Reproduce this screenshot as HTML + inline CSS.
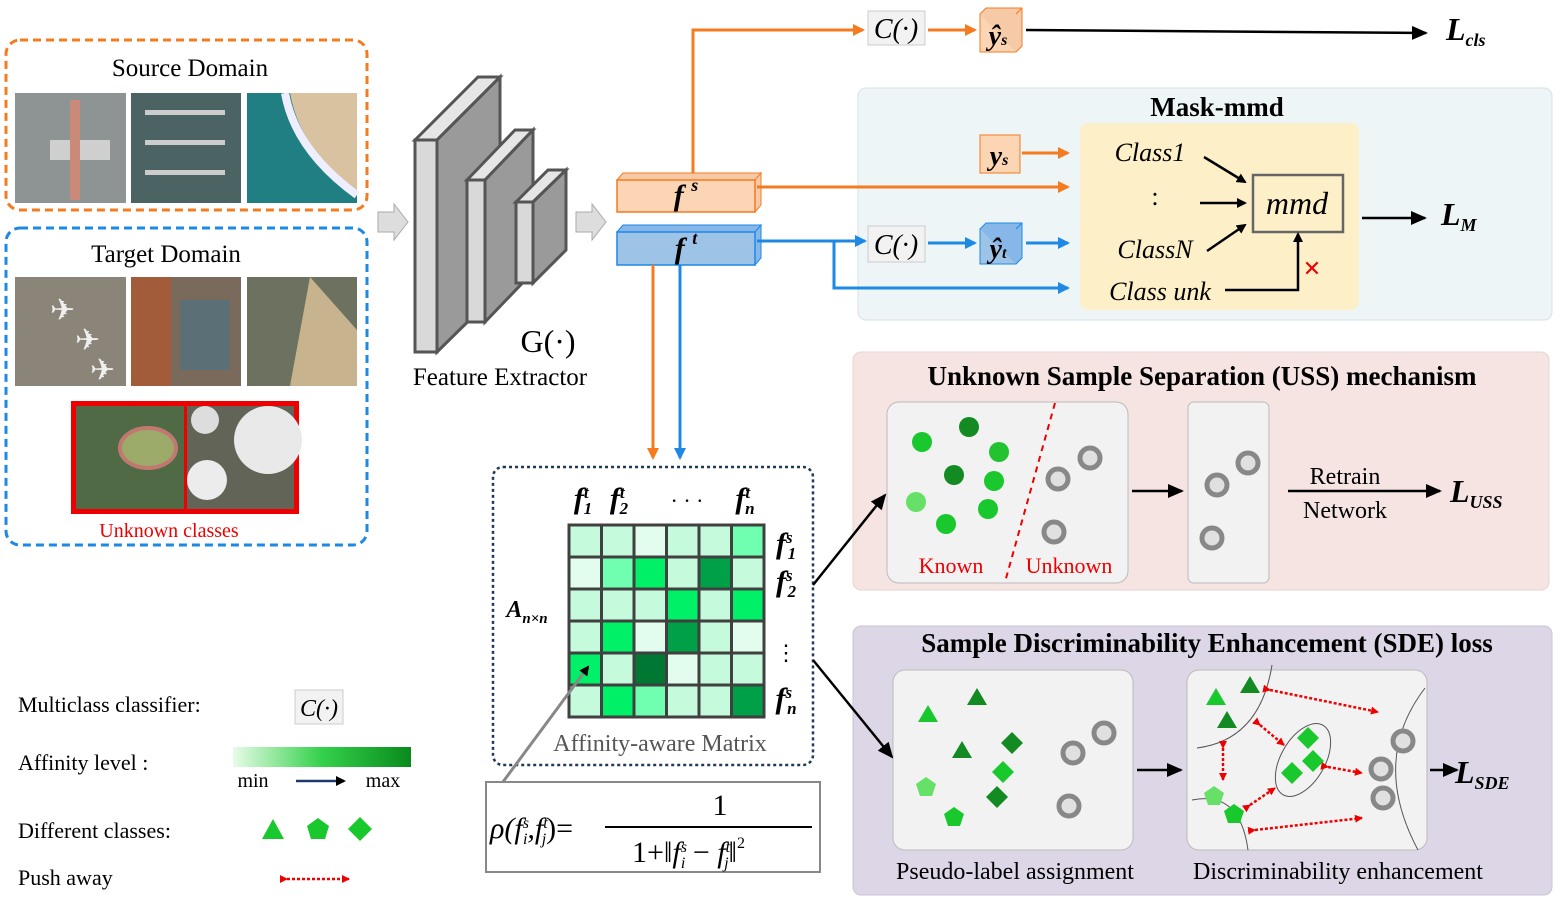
<!DOCTYPE html>
<html><head><meta charset="utf-8">
<style>
body{margin:0;background:#fff;}
svg{display:block;font-family:"Liberation Serif",serif;}
.it{font-style:italic;}
</style></head>
<body>
<svg id="fig" width="1561" height="906" viewBox="0 0 1561 906" xmlns="http://www.w3.org/2000/svg">
<defs>
<marker id="ab" markerWidth="10" markerHeight="10" refX="8" refY="5" orient="auto" markerUnits="userSpaceOnUse"><path d="M0,0 L10,5 L0,10 z" fill="#000"/></marker>
<marker id="ao" markerWidth="12" markerHeight="12" refX="10" refY="6" orient="auto" markerUnits="userSpaceOnUse"><path d="M0,0 L12,6 L0,12 z" fill="#f47b20"/></marker>
<marker id="abl" markerWidth="12" markerHeight="12" refX="10" refY="6" orient="auto" markerUnits="userSpaceOnUse"><path d="M0,0 L12,6 L0,12 z" fill="#1e88e5"/></marker>
<marker id="ak" markerWidth="16" markerHeight="14" refX="14" refY="7" orient="auto" markerUnits="userSpaceOnUse"><path d="M0,0 L16,7 L0,14 z" fill="#000"/></marker>
<marker id="ar" markerWidth="8" markerHeight="8" refX="7" refY="4" orient="auto" markerUnits="userSpaceOnUse"><path d="M0,0 L8,4 L0,8 z" fill="#e00"/></marker>
<linearGradient id="aff" x1="0" x2="1"><stop offset="0" stop-color="#e8fbe8"/><stop offset="0.5" stop-color="#33d14a"/><stop offset="1" stop-color="#0a8a1e"/></linearGradient>
</defs>

<g>
<rect x="6" y="40" width="361" height="170" rx="14" fill="none" stroke="#f47b20" stroke-width="3" stroke-dasharray="8,5"/>
<text x="190" y="76" font-size="25" text-anchor="middle">Source Domain</text>
<rect x="15" y="93" width="111" height="110" fill="#8e9394"/><rect x="50" y="140" width="60" height="20" fill="#cfcfcf"/><rect x="70" y="100" width="10" height="100" fill="#c98a7a"/>
<rect x="131" y="93" width="110" height="110" fill="#4b6463"/><rect x="145" y="110" width="80" height="5" fill="#ccc"/><rect x="145" y="140" width="80" height="5" fill="#ccc"/><rect x="145" y="170" width="80" height="5" fill="#ccc"/>
<rect x="247" y="93" width="110" height="110" fill="#1f7f82"/><path d="M290,93 Q300,150 357,190 L357,93 z" fill="#d9c2a0"/><path d="M285,93 Q295,150 357,195" fill="none" stroke="#eef" stroke-width="8"/>
</g>
<g>
<rect x="6" y="228" width="361" height="317" rx="14" fill="none" stroke="#1e88e5" stroke-width="3" stroke-dasharray="8,5"/>
<text x="166" y="262" font-size="25" text-anchor="middle">Target Domain</text>
<rect x="15" y="277" width="111" height="109" fill="#8b8579"/><text x="50" y="320" font-size="30" fill="#eee">✈</text><text x="75" y="350" font-size="30" fill="#eee">✈</text><text x="90" y="380" font-size="30" fill="#eee">✈</text>
<rect x="131" y="277" width="110" height="109" fill="#7a6a5c"/><rect x="131" y="277" width="40" height="109" fill="#a35c3a"/><rect x="180" y="300" width="50" height="70" fill="#5b6f77"/>
<rect x="247" y="277" width="110" height="109" fill="#6d7260"/><path d="M310,277 L357,330 L357,386 L290,386 z" fill="#c7b38d"/>
<rect x="71" y="401" width="228" height="113" fill="#e00"/>
<rect x="76" y="406" width="108" height="103" fill="#4f6a45"/><ellipse cx="148" cy="448" rx="28" ry="20" fill="#9cab6a" stroke="#c07870" stroke-width="4"/>
<rect x="187" y="406" width="107" height="103" fill="#626457"/><circle cx="268" cy="440" r="34" fill="#e9e9e9"/><circle cx="207" cy="480" r="20" fill="#ececec"/><circle cx="205" cy="420" r="14" fill="#ddd"/>
<text x="169" y="537" font-size="20" fill="#e00" text-anchor="middle">Unknown classes</text>
</g>

<path d="M378,212 h16 v-8 l14,18 l-14,18 v-8 h-16 z" fill="#ddd" stroke="#aaa"/>
<path d="M576,212 h16 v-8 l14,18 l-14,18 v-8 h-16 z" fill="#ddd" stroke="#aaa"/>

<g stroke="#555" stroke-width="3">
<path d="M415,140 L478,77 L500,77 L437,140 z" fill="#e6e6e6"/><path d="M437,140 L500,77 L500,290 L437,352 z" fill="#9a9a9a"/><rect x="415" y="140" width="22" height="212" fill="#d9d9d9"/>
<path d="M467,180 L515,130 L533,130 L485,180 z" fill="#e6e6e6"/><path d="M485,180 L533,130 L533,272 L485,322 z" fill="#9a9a9a"/><rect x="467" y="180" width="18" height="142" fill="#d9d9d9"/>
<path d="M516,202 L548,170 L566,170 L533,202 z" fill="#e6e6e6"/><path d="M533,202 L566,170 L566,250 L533,283 z" fill="#9a9a9a"/><rect x="516" y="202" width="17" height="81" fill="#d9d9d9"/>
</g>
<text x="548" y="352" font-size="32" text-anchor="middle">G(·)</text>
<text x="500" y="385" font-size="25" text-anchor="middle">Feature Extractor</text>

<g><path d="M617,180 l6,-7 h138 l-6,7 z M755,180 l6,-7 v32 l-6,7 z" fill="#f6c9a7" stroke="#f47b20"/><rect x="617" y="180" width="138" height="32" fill="#fcd5b5" stroke="#f47b20" stroke-width="1.5"/><text x="686" y="205" font-size="30" class="it" font-weight="bold" text-anchor="middle">f <tspan font-size="18" dy="-14">s</tspan></text></g>
<g><path d="M617,232 l6,-7 h138 l-6,7 z M755,232 l6,-7 v33 l-6,7 z" fill="#86b7e8" stroke="#1e88e5"/><rect x="617" y="232" width="138" height="33" fill="#9dc3e6" stroke="#1e88e5" stroke-width="1.5"/><text x="686" y="258" font-size="30" class="it" font-weight="bold" text-anchor="middle">f <tspan font-size="18" dy="-14">t</tspan></text></g>

<path d="M693,173 V30 H863" fill="none" stroke="#f47b20" stroke-width="3" marker-end="url(#ao)"/>
<rect x="868" y="11" width="57" height="34" fill="#f2f2f2" stroke="#ccc"/><text x="896" y="38" font-size="28" class="it" text-anchor="middle">C(·)</text>
<path d="M928,30 H975" stroke="#f47b20" stroke-width="3" marker-end="url(#ao)"/>
<rect x="980" y="14" width="36" height="38" fill="#fcd5b5" stroke="#f47b20"/><path d="M980,14 l6,-6 h36 v38 l-6,6 M1016,14 l6,-6" fill="#f6c9a7" stroke="#f47b20"/>
<text x="998" y="45" font-size="28" class="it" font-weight="bold" text-anchor="middle">ŷ<tspan font-size="16">s</tspan></text>
<path d="M1026,30 L1426,33" stroke="#000" stroke-width="2.5" marker-end="url(#ak)"/>
<text x="1446" y="40" font-size="32" class="it" font-weight="bold">L<tspan font-size="18" dy="6">cls</tspan></text>

<g>
<rect x="858" y="88" width="694" height="232" rx="8" fill="#eef5f7" stroke="#d6e3e8"/>
<text x="1217" y="116" font-size="27" font-weight="bold" text-anchor="middle">Mask-mmd</text>
<rect x="1080" y="123" width="279" height="187" rx="8" fill="#fdf0c8"/>
</g>
<rect x="980" y="135" width="40" height="38" fill="#fcd5b5" stroke="#f47b20"/><text x="999" y="165" font-size="28" class="it" font-weight="bold" text-anchor="middle">y<tspan font-size="16">s</tspan></text>
<path d="M1022,153 H1068" stroke="#f47b20" stroke-width="3" marker-end="url(#ao)"/>
<path d="M757,187 H1068" stroke="#f47b20" stroke-width="3" marker-end="url(#ao)"/>
<path d="M757,241 H865" stroke="#1e88e5" stroke-width="3" marker-end="url(#abl)"/>
<path d="M834,241 V288 H1068" fill="none" stroke="#1e88e5" stroke-width="3" marker-end="url(#abl)"/>
<rect x="868" y="226" width="57" height="36" fill="#f2f2f2" stroke="#ccc"/><text x="896" y="254" font-size="28" class="it" text-anchor="middle">C(·)</text>
<path d="M928,243 H975" stroke="#1e88e5" stroke-width="3" marker-end="url(#abl)"/>
<rect x="980" y="229" width="36" height="35" fill="#9dc3e6" stroke="#1e88e5"/><path d="M980,229 l6,-6 h36 v35 l-6,6 M1016,229 l6,-6" fill="#86b7e8" stroke="#1e88e5"/>
<text x="998" y="258" font-size="28" class="it" font-weight="bold" text-anchor="middle">ŷ<tspan font-size="16">t</tspan></text>
<path d="M1026,243 H1068" stroke="#1e88e5" stroke-width="3" marker-end="url(#abl)"/>
<text x="1150" y="161" font-size="26" class="it" text-anchor="middle">Class1</text>
<text x="1155" y="205" font-size="26" text-anchor="middle">:</text>
<text x="1155" y="258" font-size="26" class="it" text-anchor="middle">ClassN</text>
<text x="1160" y="300" font-size="26" class="it" text-anchor="middle">Class unk</text>
<path d="M1204,157 L1245,182" stroke="#000" stroke-width="2.5" marker-end="url(#ab)"/>
<path d="M1200,203 H1245" stroke="#000" stroke-width="2.5" marker-end="url(#ab)"/>
<path d="M1207,251 L1245,225" stroke="#000" stroke-width="2.5" marker-end="url(#ab)"/>
<rect x="1253" y="175" width="90" height="57" fill="none" stroke="#666" stroke-width="2.5"/>
<text x="1297" y="214" font-size="32" class="it" text-anchor="middle">mmd</text>
<path d="M1225,290 H1298 V234" fill="none" stroke="#000" stroke-width="2.5" marker-end="url(#ab)"/>
<text x="1312" y="276" font-size="22" fill="#e00" text-anchor="middle">✕</text>
<path d="M1362,218 H1425" stroke="#000" stroke-width="2.5" marker-end="url(#ak)"/>
<text x="1441" y="225" font-size="32" class="it" font-weight="bold">L<tspan font-size="18" dy="6">M</tspan></text>

<g>
<rect x="853" y="352" width="696" height="238" rx="8" fill="#f5e4e2" stroke="#ead3d0"/>
<text x="1202" y="385" font-size="27" font-weight="bold" text-anchor="middle">Unknown Sample Separation (USS) mechanism</text>
<rect x="887" y="402" width="241" height="181" rx="12" fill="#f2f2f2" stroke="#bbb"/>
<rect x="1188" y="402" width="81" height="181" rx="6" fill="#f2f2f2" stroke="#bbb"/>
</g>
<g>
<circle cx="922" cy="442" r="10" fill="#19c82d"/><circle cx="969" cy="427" r="10" fill="#138a22"/><circle cx="999" cy="452" r="10" fill="#22c230"/><circle cx="954" cy="475" r="10" fill="#138a22"/><circle cx="994" cy="481" r="10" fill="#19c82d"/><circle cx="916" cy="502" r="10" fill="#66e066"/><circle cx="988" cy="509" r="10" fill="#19c82d"/><circle cx="946" cy="524" r="10" fill="#19c82d"/>
</g>
<g fill="#e0e0e0" stroke="#888" stroke-width="5">
<circle cx="1090" cy="458" r="10"/><circle cx="1058" cy="479" r="10"/><circle cx="1054" cy="532" r="10"/>
<circle cx="1248" cy="463" r="10"/><circle cx="1217" cy="485" r="10"/><circle cx="1212" cy="538" r="10"/>
</g>
<path d="M1055,403 L1005,582" stroke="#e00" stroke-width="2" stroke-dasharray="6,5"/>
<text x="951" y="573" font-size="22" fill="#e00" text-anchor="middle">Known</text>
<text x="1069" y="573" font-size="22" fill="#e00" text-anchor="middle">Unknown</text>
<path d="M1132,491 H1182" stroke="#000" stroke-width="2.5" marker-end="url(#ak)"/>
<text x="1345" y="484" font-size="24" text-anchor="middle">Retrain</text>
<text x="1345" y="518" font-size="24" text-anchor="middle">Network</text>
<path d="M1288,491 H1440" stroke="#000" stroke-width="2.5" marker-end="url(#ak)"/>
<text x="1450" y="502" font-size="32" class="it" font-weight="bold">L<tspan font-size="18" dy="6">USS</tspan></text>

<g>
<rect x="853" y="626" width="699" height="269" rx="8" fill="#dcd6e6" stroke="#cbc3d8"/>
<text x="1207" y="652" font-size="27" font-weight="bold" text-anchor="middle">Sample Discriminability Enhancement (SDE) loss</text>
<rect x="893" y="670" width="240" height="180" rx="12" fill="#f2f2f2" stroke="#bbb"/>
<rect x="1187" y="670" width="240" height="180" rx="12" fill="#f2f2f2" stroke="#bbb"/>
</g>
<g>
<path d="M977,688 l10,17 h-20 z" fill="#138a22"/><path d="M928,705 l10,17 h-20 z" fill="#19c82d"/><path d="M962,741 l10,17 h-20 z" fill="#138a22"/>
<path d="M1012,732 l11,11 l-11,11 l-11,-11 z" fill="#138a22"/><path d="M1003,761 l11,11 l-11,11 l-11,-11 z" fill="#19c82d"/><path d="M997,786 l11,11 l-11,11 l-11,-11 z" fill="#138a22"/>
<path d="M926,777 l10,7 l-4,12 h-12 l-4,-12 z" fill="#66e066"/><path d="M954,807 l10,7 l-4,12 h-12 l-4,-12 z" fill="#19c82d"/>
<g fill="#e0e0e0" stroke="#888" stroke-width="5"><circle cx="1104" cy="733" r="10"/><circle cx="1073" cy="753" r="10"/><circle cx="1069" cy="806" r="10"/></g>
</g>
<g fill="none" stroke="#555" stroke-width="1">
<path d="M1197,748 Q1260,740 1272,665"/><path d="M1192,800 Q1240,790 1248,850"/><path d="M1425,688 Q1370,760 1418,850"/>
<ellipse cx="1303" cy="760" rx="22" ry="40" transform="rotate(30 1303 760)"/>
</g>
<g>
<path d="M1216,688 l10,17 h-20 z" fill="#19c82d"/><path d="M1250,676 l10,17 h-20 z" fill="#138a22"/><path d="M1227,711 l10,17 h-20 z" fill="#138a22"/>
<path d="M1308,727 l11,11 l-11,11 l-11,-11 z" fill="#19c82d"/><path d="M1292,762 l11,11 l-11,11 l-11,-11 z" fill="#19c82d"/><path d="M1313,750 l11,11 l-11,11 l-11,-11 z" fill="#19c82d"/>
<path d="M1214,786 l10,7 l-4,12 h-12 l-4,-12 z" fill="#66e066"/><path d="M1234,804 l10,7 l-4,12 h-12 l-4,-12 z" fill="#19c82d"/>
<g fill="#e0e0e0" stroke="#888" stroke-width="5"><circle cx="1403" cy="741" r="10"/><circle cx="1381" cy="769" r="10"/><circle cx="1383" cy="798" r="10"/></g>
<g stroke="#e00" stroke-width="2.5" stroke-dasharray="3,2" marker-start="url(#ar)" marker-end="url(#ar)">
<line x1="1270" y1="690" x2="1378" y2="712"/><line x1="1260" y1="725" x2="1284" y2="745"/><line x1="1223" y1="748" x2="1223" y2="780"/>
<line x1="1250" y1="805" x2="1275" y2="788"/><line x1="1255" y1="830" x2="1362" y2="818"/><line x1="1328" y1="767" x2="1362" y2="773"/>
</g>
</g>
<path d="M1137,770 H1181" stroke="#000" stroke-width="2.5" marker-end="url(#ak)"/>
<path d="M1430,770 H1457" stroke="#000" stroke-width="2.5" marker-end="url(#ak)"/>
<text x="1455" y="783" font-size="32" class="it" font-weight="bold">L<tspan font-size="18" dy="6">SDE</tspan></text>
<text x="1015" y="879" font-size="24" text-anchor="middle">Pseudo-label assignment</text>
<text x="1338" y="879" font-size="24" text-anchor="middle">Discriminability enhancement</text>

<path d="M653,265 V458" stroke="#f47b20" stroke-width="3" marker-end="url(#ao)"/>
<path d="M680,265 V458" stroke="#1e88e5" stroke-width="3" marker-end="url(#abl)"/>
<rect x="493" y="467" width="320" height="298" rx="10" fill="none" stroke="#1f3a5a" stroke-width="2.5" stroke-dasharray="3,3"/>
<g id="matrix"></g>
<text x="583" y="508" font-size="30" class="it" font-weight="bold" text-anchor="middle">f<tspan font-size="17" dy="-10">t</tspan><tspan font-size="17" dx="-5" dy="16">1</tspan></text>
<text x="619" y="508" font-size="30" class="it" font-weight="bold" text-anchor="middle">f<tspan font-size="17" dy="-10">t</tspan><tspan font-size="17" dx="-5" dy="16">2</tspan></text>
<text x="687" y="508" font-size="22" text-anchor="middle">· · ·</text>
<text x="745" y="508" font-size="30" class="it" font-weight="bold" text-anchor="middle">f<tspan font-size="17" dy="-10">t</tspan><tspan font-size="17" dx="-5" dy="16">n</tspan></text>
<text x="786" y="553" font-size="30" class="it" font-weight="bold" text-anchor="middle">f<tspan font-size="17" dy="-10">s</tspan><tspan font-size="17" dx="-5" dy="16">1</tspan></text>
<text x="786" y="591" font-size="30" class="it" font-weight="bold" text-anchor="middle">f<tspan font-size="17" dy="-10">s</tspan><tspan font-size="17" dx="-5" dy="16">2</tspan></text>
<text x="786" y="660" font-size="22" text-anchor="middle">⋮</text>
<text x="786" y="708" font-size="30" class="it" font-weight="bold" text-anchor="middle">f<tspan font-size="17" dy="-10">s</tspan><tspan font-size="17" dx="-5" dy="16">n</tspan></text>
<text x="527" y="617" font-size="24" class="it" font-weight="bold" text-anchor="middle">A<tspan font-size="15" dy="6">n×n</tspan></text>
<text x="660" y="751" font-size="24" fill="#555" text-anchor="middle">Affinity-aware Matrix</text>
<path d="M497,790 L588,667" stroke="#888" stroke-width="3" marker-end="url(#ab)"/>
<rect x="486" y="782" width="334" height="90" fill="#fff" stroke="#888" stroke-width="2"/>
<text x="490" y="838" font-size="30" class="it">ρ(f<tspan font-size="16" dy="-10">s</tspan><tspan font-size="16" dx="-6" dy="16">i</tspan><tspan dy="-6">,f</tspan><tspan font-size="16" dy="-10">t</tspan><tspan font-size="16" dx="-6" dy="16">j</tspan><tspan dy="-6" font-style="normal">)=</tspan></text>
<line x1="605" y1="827" x2="812" y2="827" stroke="#000" stroke-width="2"/>
<text x="720" y="815" font-size="30" text-anchor="middle">1</text>
<text x="632" y="862" font-size="30">1+‖<tspan class="it">f</tspan><tspan font-size="16" dy="-10" class="it">s</tspan><tspan font-size="16" dx="-6" dy="16" class="it">i</tspan><tspan dy="-6"> − </tspan><tspan class="it">f</tspan><tspan font-size="16" dy="-10" class="it">t</tspan><tspan font-size="16" dx="-6" dy="16" class="it">j</tspan><tspan dy="-6">‖</tspan><tspan font-size="16" dy="-14">2</tspan></text>
<path d="M813,585 L885,495" stroke="#000" stroke-width="2.5" marker-end="url(#ak)"/>
<path d="M813,660 L892,757" stroke="#000" stroke-width="2.5" marker-end="url(#ak)"/>

<g>
<text x="18" y="712" font-size="22">Multiclass classifier:</text>
<rect x="295" y="690" width="48" height="34" fill="#f2f2f2" stroke="#ccc"/><text x="319" y="716" font-size="24" class="it" text-anchor="middle">C(·)</text>
<text x="18" y="770" font-size="22">Affinity level :</text>
<rect x="233" y="747" width="178" height="20" fill="url(#aff)"/>
<text x="253" y="787" font-size="20" text-anchor="middle">min</text><text x="383" y="787" font-size="20" text-anchor="middle">max</text>
<path d="M296,781 H344" stroke="#1f3a6a" stroke-width="2.5" marker-end="url(#ab)"/>
<text x="18" y="838" font-size="22">Different classes:</text>
<path d="M273,819 l11,20 h-22 z" fill="#19c82d"/><path d="M318,818 l11,8 l-4,13 h-14 l-4,-13 z" fill="#19c82d"/><path d="M360,817 l12,12 l-12,12 l-12,-12 z" fill="#19c82d"/>
<text x="18" y="885" font-size="22">Push away</text>
<line x1="287" y1="879" x2="349" y2="879" stroke="#e00" stroke-width="2.5" stroke-dasharray="3,2" marker-start="url(#ar)" marker-end="url(#ar)"/>
</g>
</svg>
<script>
const rowLabels = ["s1","s2","s3","s4","s5","s6"];
const colLabels = ["t1","t2","t3","t4","t5","t6"];
const affinityRow1 = [0.25,0.25,0.1,0.25,0.25,0.5];
const affinityRow2 = [0.1,0.5,0.75,0.25,0.9,0.25];
const affinityRow3 = [0.25,0.25,0.25,0.75,0.25,0.75];
const affinityRow4 = [0.25,0.75,0.1,0.9,0.25,0.1];
const affinityRow5 = [0.75,0.25,1.0,0.1,0.25,0.25];
const affinityRow6 = [0.25,0.75,0.5,0.25,0.25,0.9];
const rows = [affinityRow1,affinityRow2,affinityRow3,affinityRow4,affinityRow5,affinityRow6];
const X0=569, Y0=525, W=195, H=192;
function xPos(i){return X0+i*W/colLabels.length;}
function yPos(j){return Y0+j*H/rowLabels.length;}
const stops=[[0,[245,255,248]],[0.25,[198,250,220]],[0.5,[112,255,176]],[0.75,[0,240,104]],[0.9,[0,160,72]],[1,[0,120,52]]];
function color(v){
  for(let k=1;k<stops.length;k++){
    if(v<=stops[k][0]){const [a0,c0]=stops[k-1],[a1,c1]=stops[k];const t=(v-a0)/(a1-a0);
      return "rgb("+c0.map((x,m)=>Math.round(x+(c1[m]-x)*t)).join(",")+")";}
  }
  return "rgb(0,120,52)";
}
const g=document.getElementById("matrix");
const NS="http://www.w3.org/2000/svg";
rows.forEach((row,j)=>row.forEach((v,i)=>{
  const r=document.createElementNS(NS,"rect");
  r.setAttribute("x",xPos(i));r.setAttribute("y",yPos(j));
  r.setAttribute("width",W/colLabels.length);r.setAttribute("height",H/rowLabels.length);
  r.setAttribute("fill",color(v));r.setAttribute("stroke","#404040");r.setAttribute("stroke-width","3");
  
  
  g.appendChild(r);
}));
</script>
</body></html>
